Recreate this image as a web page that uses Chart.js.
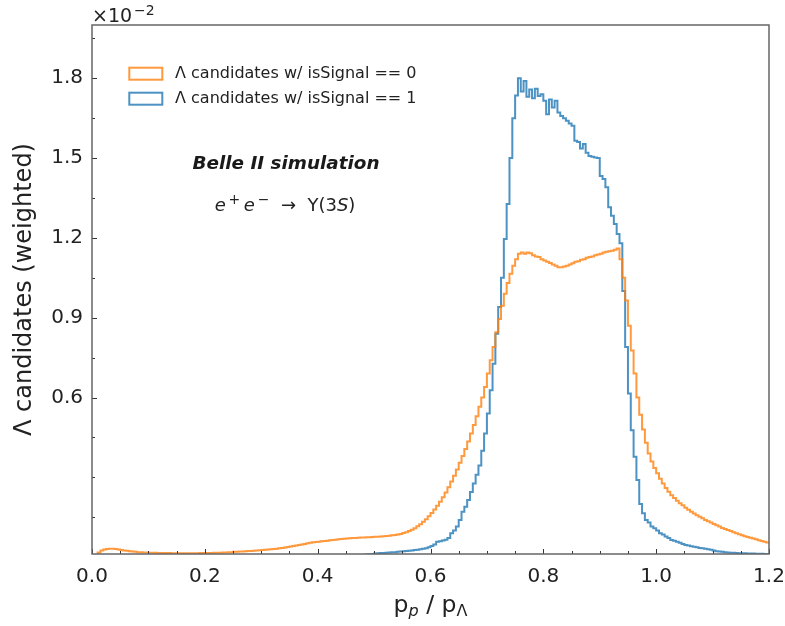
<!DOCTYPE html>
<html>
<head>
<meta charset="utf-8">
<script src="https://cdn.jsdelivr.net/npm/chart.js@4.4.0/dist/chart.umd.min.js"></script>
<style>
  html, body { margin: 0; padding: 0; background: #fff; }
  #wrap { width: 785px; height: 626px; }
</style>
</head>
<body>
<div id="wrap"><canvas id="lambdaChart" width="785" height="626"></canvas></div>
<script>
// histogram: 240 bins of width 0.005 from 0 to 1.2, values in units of 1e-2
var binWidth = 0.005;

// Lambda candidates w/ isSignal == 0
var bkgValues = [
    0.000, 0.008, 0.018, 0.025, 0.029, 0.031, 0.032, 0.032, 0.031, 0.029,
    0.027, 0.025, 0.024, 0.022, 0.021, 0.020, 0.019, 0.019, 0.018, 0.018,
    0.017, 0.017, 0.017, 0.016, 0.016, 0.016, 0.016, 0.016, 0.015, 0.015,
    0.015, 0.015, 0.015, 0.015, 0.015, 0.015, 0.015, 0.015, 0.016, 0.016,
    0.016, 0.016, 0.016, 0.017, 0.017, 0.017, 0.018, 0.018, 0.019, 0.019,
    0.020, 0.020, 0.021, 0.021, 0.022, 0.023, 0.023, 0.024, 0.025, 0.026,
    0.027, 0.028, 0.029, 0.030, 0.031, 0.032, 0.034, 0.035, 0.036, 0.038,
    0.040, 0.042, 0.044, 0.046, 0.048, 0.050, 0.052, 0.054, 0.056, 0.057,
    0.058, 0.060, 0.061, 0.062, 0.064, 0.065, 0.066, 0.067, 0.068, 0.069,
    0.070, 0.071, 0.072, 0.072, 0.073, 0.074, 0.074, 0.075, 0.075, 0.076,
    0.077, 0.077, 0.078, 0.079, 0.080, 0.081, 0.082, 0.083, 0.085, 0.087,
    0.091, 0.094, 0.098, 0.103, 0.109, 0.116, 0.124, 0.133, 0.143, 0.154,
    0.166, 0.179, 0.193, 0.208, 0.225, 0.243, 0.263, 0.284, 0.306, 0.330,
    0.355, 0.380, 0.407, 0.435, 0.465, 0.497, 0.530, 0.565, 0.600, 0.640,
    0.690, 0.740, 0.790, 0.845, 0.895, 0.945, 0.990, 1.030, 1.065, 1.095,
    1.120, 1.140, 1.145, 1.140, 1.145, 1.142, 1.135, 1.130, 1.128, 1.120,
    1.115, 1.110, 1.106, 1.100, 1.095, 1.090, 1.090, 1.092, 1.095, 1.100,
    1.105, 1.110, 1.112, 1.118, 1.120, 1.125, 1.128, 1.130, 1.135, 1.138,
    1.140, 1.145, 1.148, 1.150, 1.152, 1.155, 1.160, 1.120, 1.050, 0.965,
    0.870, 0.777, 0.690, 0.600, 0.535, 0.480, 0.430, 0.390, 0.360, 0.335,
    0.315, 0.295, 0.277, 0.260, 0.246, 0.233, 0.222, 0.212, 0.203, 0.195,
    0.186, 0.178, 0.171, 0.164, 0.158, 0.152, 0.146, 0.140, 0.135, 0.130,
    0.125, 0.120, 0.115, 0.110, 0.106, 0.102, 0.098, 0.094, 0.090, 0.086,
    0.082, 0.079, 0.076, 0.073, 0.070, 0.067, 0.064, 0.061, 0.058, 0.055
];

// Lambda candidates w/ isSignal == 1
var sigValues = [
    0, 0, 0, 0, 0, 0, 0, 0, 0, 0,
    0, 0, 0, 0, 0, 0, 0, 0, 0, 0,
    0, 0, 0, 0, 0, 0, 0, 0, 0, 0,
    0, 0, 0, 0, 0, 0, 0, 0, 0, 0,
    0, 0, 0, 0, 0, 0, 0, 0, 0, 0,
    0, 0, 0, 0, 0, 0, 0, 0, 0, 0,
    0, 0, 0, 0, 0, 0, 0, 0, 0, 0,
    0, 0, 0, 0, 0, 0, 0, 0, 0, 0,
    0, 0, 0, 0, 0, 0, 0, 0, 0, 0,
    0.000, 0.000, 0.000, 0.002, 0.004, 0.006, 0.008, 0.010, 0.011, 0.012,
    0.014, 0.015, 0.016, 0.016, 0.017, 0.018, 0.019, 0.019, 0.020, 0.021,
    0.022, 0.023, 0.024, 0.025, 0.027, 0.028, 0.030, 0.032, 0.034, 0.037,
    0.042, 0.048, 0.058, 0.060, 0.063, 0.066, 0.072, 0.090, 0.100, 0.115,
    0.140, 0.171, 0.190, 0.215, 0.245, 0.277, 0.310, 0.345, 0.400, 0.465,
    0.540, 0.627, 0.727, 0.840, 0.940, 1.050, 1.196, 1.327, 1.500, 1.650,
    1.735, 1.800, 1.750, 1.790, 1.730, 1.758, 1.725, 1.760, 1.733, 1.740,
    1.715, 1.665, 1.720, 1.690, 1.715, 1.671, 1.658, 1.650, 1.640, 1.630,
    1.621, 1.565, 1.560, 1.536, 1.553, 1.520, 1.508, 1.505, 1.502, 1.500,
    1.433, 1.421, 1.390, 1.315, 1.283, 1.252, 1.215, 1.180, 1.000, 0.790,
    0.615, 0.477, 0.377, 0.290, 0.200, 0.165, 0.140, 0.130, 0.115, 0.109,
    0.100, 0.090, 0.085, 0.078, 0.072, 0.065, 0.062, 0.058, 0.054, 0.050,
    0.046, 0.044, 0.041, 0.039, 0.037, 0.035, 0.034, 0.032, 0.030, 0.028,
    0.025, 0.022, 0.021, 0.020, 0.019, 0.018, 0.017, 0.017, 0.016, 0.015,
    0.015, 0.015, 0.014, 0.014, 0.014, 0.013, 0.013, 0.013, 0.012, 0.012
];

var seriesLabels = ['\u039B candidates w/ isSignal == 0', '\u039B candidates w/ isSignal == 1'];
var xTickValues = [0.0, 0.2, 0.4, 0.6, 0.8, 1.0, 1.2];
var yTickValues = [0.6, 0.9, 1.2, 1.5, 1.8];
var xMinorValues = [0.05, 0.1, 0.15, 0.25, 0.3, 0.35, 0.45, 0.5, 0.55, 0.65, 0.7, 0.75, 0.85, 0.9, 0.95, 1.05, 1.1, 1.15];
var yMinorValues = [0.15, 0.3, 0.45, 0.75, 1.05, 1.35, 1.65, 1.95];

var orange = 'rgba(255, 127, 14, 0.8)';
var blue = 'rgba(31, 119, 180, 0.8)';
var FONT = '"DejaVu Sans", Verdana, sans-serif';

// bin left edges + closing point at the right edge
function toSteps(vals) {
    var pts = vals.map(function(v, i) { return { x: i * binWidth, y: v }; });
    pts.push({ x: vals.length * binWidth, y: vals[vals.length - 1] });
    return pts;
}

// ticks (inward), spines, legend and labels
var decorPlugin = {
    id: 'decor',
    afterDraw: function(chart) {
        var ctx = chart.ctx, a = chart.chartArea;
        var xs = chart.scales.x, ys = chart.scales.y;
        ctx.save();

        // ticks
        ctx.strokeStyle = '#333';
        ctx.lineWidth = 1;
        ctx.beginPath();
        xTickValues.forEach(function(v) {
            var px = Math.round(xs.getPixelForValue(v)) + 0.5;
            ctx.moveTo(px, a.bottom); ctx.lineTo(px, a.bottom - 5);
        });
        xMinorValues.forEach(function(v) {
            var px = Math.round(xs.getPixelForValue(v)) + 0.5;
            ctx.moveTo(px, a.bottom); ctx.lineTo(px, a.bottom - 3);
        });
        yTickValues.forEach(function(v) {
            var py = Math.round(ys.getPixelForValue(v)) + 0.5;
            ctx.moveTo(a.left, py); ctx.lineTo(a.left + 5, py);
        });
        yMinorValues.forEach(function(v) {
            var py = Math.round(ys.getPixelForValue(v)) + 0.5;
            ctx.moveTo(a.left, py); ctx.lineTo(a.left + 3, py);
        });
        ctx.stroke();

        // spines
        ctx.strokeStyle = '#666';
        ctx.lineWidth = 1.5;
        ctx.strokeRect(a.left, a.top, a.right - a.left, a.bottom - a.top);

        // offset text x10^-2
        ctx.fillStyle = '#222';
        ctx.textBaseline = 'alphabetic';
        ctx.textAlign = 'left';
        ctx.font = '19px ' + FONT;
        ctx.fillText('\u00D710', a.left, 22);
        var w = ctx.measureText('\u00D710').width;
        ctx.font = '14px ' + FONT;
        ctx.fillText('\u22122', a.left + w + 2, 15);

        // legend
        var legendColors = [orange, blue];
        ctx.lineWidth = 2;
        ctx.font = '16px ' + FONT;
        ctx.textBaseline = 'middle';
        for (var i = 0; i < 2; i++) {
            var top = 67.7 + i * 25;
            ctx.strokeStyle = legendColors[i];
            ctx.strokeRect(129.3, top, 33, 12);
            ctx.fillStyle = '#222';
            ctx.fillText(seriesLabels[i], 175, top + 6);
        }

        // Belle II simulation
        var cx = 286;
        ctx.textAlign = 'center';
        ctx.font = 'italic bold 18.4px ' + FONT;
        ctx.fillStyle = '#1a1a1a';
        ctx.fillText('Belle II simulation', cx, 164);

        // e+e- -> Upsilon(3S)
        var parts = [
            { t: 'e', f: 'italic 18px ', dy: 0 },
            { t: '\u2009+', f: '14px ', dy: -7 },
            { t: '\u2009e', f: 'italic 18px ', dy: 0 },
            { t: '\u2009\u2212', f: '14px ', dy: -7 },
            { t: '  \u2192  \u03A5(3', f: '18px ', dy: 0 },
            { t: 'S', f: 'italic 18px ', dy: 0 },
            { t: ')', f: '18px ', dy: 0 }
        ];
        drawParts(ctx, parts, 285, 211);

        // x label
        var xparts = [
            { t: 'p', f: '23.5px ', dy: 0 },
            { t: 'p', f: 'italic 16px ', dy: 4 },
            { t: ' / p', f: '23.5px ', dy: 0 },
            { t: '\u039B', f: '16px ', dy: 4 }
        ];
        drawParts(ctx, xparts, (a.left + a.right) / 2, 612);

        // y label
        ctx.save();
        ctx.translate(25, (a.top + a.bottom) / 2);
        ctx.rotate(-Math.PI / 2);
        ctx.textAlign = 'center';
        ctx.textBaseline = 'middle';
        ctx.font = '24px ' + FONT;
        ctx.fillStyle = '#222';
        ctx.fillText('\u039B candidates (weighted)', 0, 0);
        ctx.restore();

        ctx.restore();
    }
};

// draw mixed-font text centred on cx, baseline y
function drawParts(ctx, parts, cx, y) {
    ctx.textAlign = 'left';
    ctx.textBaseline = 'alphabetic';
    var total = 0;
    parts.forEach(function(p) {
        ctx.font = p.f + FONT;
        p.w = ctx.measureText(p.t).width;
        total += p.w;
    });
    var x = cx - total / 2;
    ctx.fillStyle = '#222';
    parts.forEach(function(p) {
        ctx.font = p.f + FONT;
        ctx.fillText(p.t, x, y + p.dy);
        x += p.w;
    });
}

var ctx1 = document.getElementById('lambdaChart').getContext('2d');
var lambdaChart = new Chart(ctx1, {
    type: 'line',
    data: {
        datasets: [{
            label: seriesLabels[0],
            data: toSteps(bkgValues),
            borderColor: orange,
            borderWidth: 2,
            stepped: 'before',
            pointRadius: 0,
            fill: false,
            clip: 0
        }, {
            label: seriesLabels[1],
            data: toSteps(sigValues),
            borderColor: blue,
            borderWidth: 2,
            stepped: 'before',
            pointRadius: 0,
            fill: false,
            clip: 0
        }]
    },
    options: {
        responsive: false,
        animation: false,
        devicePixelRatio: 1,
        layout: { padding: { left: 0, top: 25, right: 16, bottom: 0 } },
        plugins: { legend: { display: false }, tooltip: { enabled: false } },
        scales: {
            x: {
                type: 'linear',
                min: 0,
                max: 1.2,
                grid: { display: false, drawTicks: false },
                border: { display: false },
                afterBuildTicks: function(scale) {
                    scale.ticks = xTickValues.map(function(v) { return { value: v }; });
                },
                afterFit: function(scale) {
                    scale.height = 72;
                    scale.paddingLeft = 0;
                    scale.paddingRight = 0;
                },
                ticks: {
                    autoSkip: false,
                    maxRotation: 0,
                    padding: 11,
                    color: '#222',
                    font: { family: FONT, size: 20 },
                    callback: function(v) { return Number(v).toFixed(1); }
                }
            },
            y: {
                type: 'linear',
                min: 0.012,
                max: 2.0,
                grid: { display: false, drawTicks: false },
                border: { display: false },
                afterBuildTicks: function(scale) {
                    scale.ticks = yTickValues.map(function(v) { return { value: v }; });
                },
                afterFit: function(scale) {
                    scale.width = 92;
                    scale.paddingTop = 0;
                    scale.paddingBottom = 0;
                },
                ticks: {
                    autoSkip: false,
                    padding: 9,
                    color: '#222',
                    font: { family: FONT, size: 20 },
                    callback: function(v) { return Number(v).toFixed(1); }
                }
            }
        }
    },
    plugins: [decorPlugin]
});
</script>
</body>
</html>
